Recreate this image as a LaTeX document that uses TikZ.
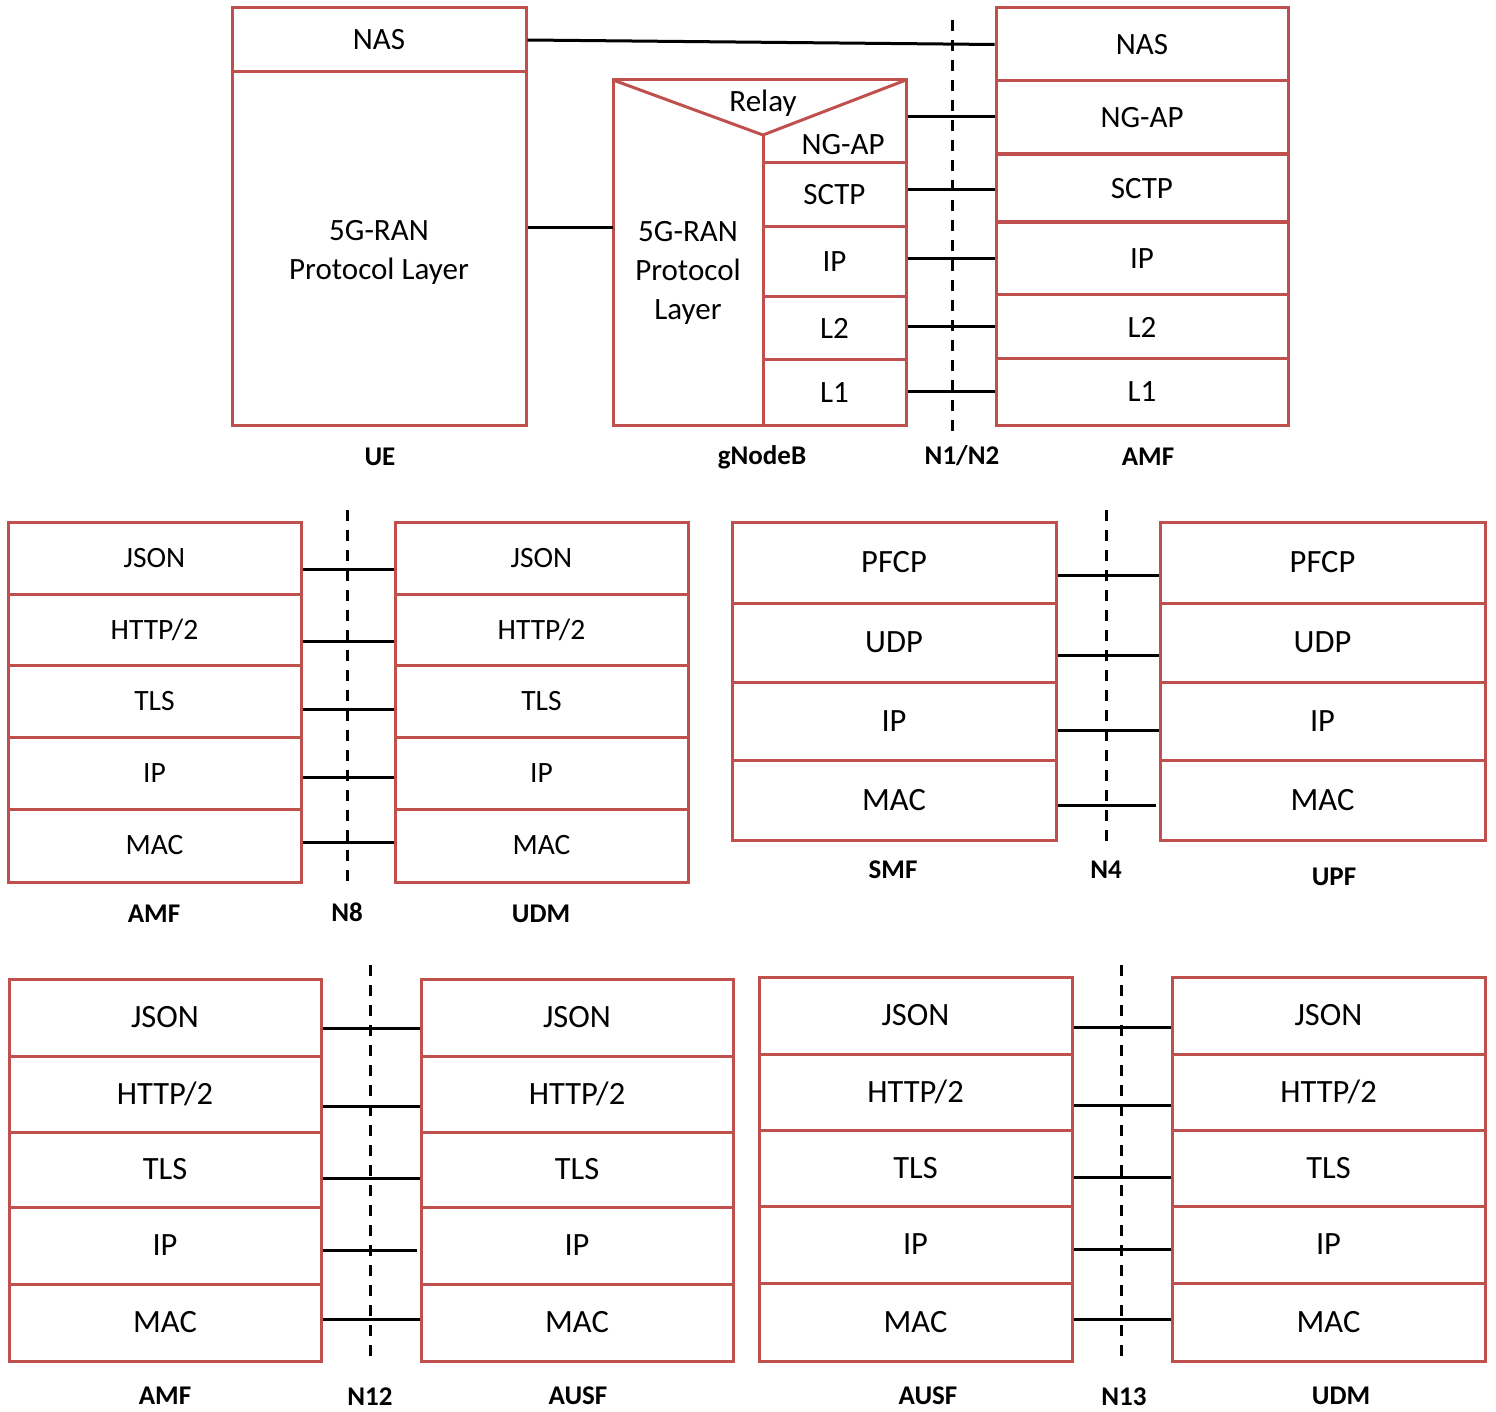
\documentclass[tikz,border=0pt]{standalone}
\usepackage{fontspec}
\setmainfont{Carlito}
\definecolor{boxred}{RGB}{192,80,77}
\tikzset{
  layer/.style={draw=boxred, line width=3pt, inner sep=0pt, align=center},
  txt/.style={inner sep=0pt, align=center},
  lbl/.style={inner sep=0pt, font=\fontsize{27}{32}\selectfont\bfseries},
  link/.style={line width=3pt, black},
  iface/.style={line width=3pt, black, dash pattern=on 11pt off 9pt},
}
\newcommand{\lay}[5]{\node[layer,minimum width=#3pt,minimum height=#4pt] (#1) at (#2) {#5};}
\begin{document}
\begin{tikzpicture}[x=1pt,y=-1pt]
\useasboundingbox (0,0) rectangle (1496,1412);

% ================= Top panel =================
\begin{scope}[font=\fontsize{31}{39}\selectfont]
% UE
\lay{uenas}{379,40}{294}{64}{NAS}
\lay{ueran}{379,248.5}{294}{353}{}
\node[txt] (uerantxt) at (379,252.5) {5G-RAN\\Protocol Layer};
% gNodeB
\draw[boxred, line width=3pt, line join=miter] (613,80) -- (906,80) -- (906,425) -- (613,425) -- cycle;
\draw[boxred, line width=3pt] (613,80) -- (763,135) -- (906,80);
\draw[boxred, line width=3pt] (763,135) -- (763,163);
\node[txt] (relay) at (763,103) {Relay};
\node[txt] (gngap) at (843,145) {NG-AP};
\node[txt, minimum width=150pt, minimum height=310pt] (gran) at (688,273) {5G-RAN\\Protocol\\Layer};
\lay{gsctp}{834.5,195}{143}{64}{SCTP}
\lay{gip}{834.5,262}{143}{70}{IP}
\lay{gltwo}{834.5,328.5}{143}{63}{L2}
\lay{glone}{834.5,392.5}{143}{65}{L1}
% AMF
\lay{anas}{1142,44.5}{292}{73}{NAS}
\lay{angap}{1142,117.5}{292}{73}{NG-AP}
\lay{asctp}{1142,189}{292}{68}{SCTP}
\lay{aip}{1142,258.5}{292}{73}{IP}
\lay{altwo}{1142,327}{292}{64}{L2}
\lay{alone}{1142,392}{292}{66}{L1}
\end{scope}
\draw[link] (uenas.east) -- (anas.west);
\draw[link] (ueran.east |- 0,228) -- (gran.west |- 0,228);
\draw[link] (gsctp.east |- 0,117) -- (angap.west |- 0,117);
\draw[link] (gsctp.east |- 0,190) -- (asctp.west |- 0,190);
\draw[link] (gip.east |- 0,259) -- (aip.west |- 0,259);
\draw[link] (gltwo.east |- 0,327) -- (altwo.west |- 0,327);
\draw[link] (glone.east |- 0,391) -- (alone.west |- 0,391);
\coordinate (nta) at (952,20);
\coordinate (ntb) at (952,432);
\draw[iface] (nta) -- (ntb);
\node[lbl] (lue) at (380,457) {UE};
\node[lbl] (lgnb) at (762,457) {gNodeB};
\node[lbl] (lnt) at (962,456) {N1/N2};
\node[lbl] (lamf) at (1148,457) {AMF};

% ================= Panel N8 =================
\begin{scope}[font=\fontsize{29.5}{34}\selectfont]
\lay{pa1}{154.5,558}{293}{72}{JSON}
\lay{pa2}{154.5,629.5}{293}{71}{HTTP/2}
\lay{pa3}{154.5,701}{293}{72}{TLS}
\lay{pa4}{154.5,773}{293}{72}{IP}
\lay{pa5}{154.5,845.5}{293}{73}{MAC}
\lay{pb1}{541.5,558}{293}{72}{JSON}
\lay{pb2}{541.5,629.5}{293}{71}{HTTP/2}
\lay{pb3}{541.5,701}{293}{72}{TLS}
\lay{pb4}{541.5,773}{293}{72}{IP}
\lay{pb5}{541.5,845.5}{293}{73}{MAC}
\end{scope}
\draw[link] (pa1.east |- 0,569) -- (pb1.west |- 0,569);
\draw[link] (pa2.east |- 0,641) -- (pb2.west |- 0,641);
\draw[link] (pa3.east |- 0,709) -- (pb3.west |- 0,709);
\draw[link] (pa4.east |- 0,777) -- (pb4.west |- 0,777);
\draw[link] (pa5.east |- 0,842) -- (pb5.west |- 0,842);
\coordinate (n8a) at (347,510);
\coordinate (n8b) at (347,885);
\draw[iface] (n8a) -- (n8b);
\node[lbl] (lamf2) at (154,914) {AMF};
\node[lbl] (ln8) at (347,912) {N8};
\node[lbl] (ludm2) at (541,914) {UDM};

% ================= Panel N4 =================
\begin{scope}[font=\fontsize{32.5}{38}\selectfont]
\lay{sa1}{894,562.5}{324}{81}{PFCP}
\lay{sa2}{894,642.5}{324}{79}{UDP}
\lay{sa3}{894,721}{324}{78}{IP}
\lay{sa4}{894,800}{324}{80}{MAC}
\lay{sb1}{1322.5,562.5}{325}{81}{PFCP}
\lay{sb2}{1322.5,642.5}{325}{79}{UDP}
\lay{sb3}{1322.5,721}{325}{78}{IP}
\lay{sb4}{1322.5,800}{325}{80}{MAC}
\end{scope}
\draw[link] (sa1.east |- 0,575) -- (sb1.west |- 0,575);
\draw[link] (sa2.east |- 0,655) -- (sb2.west |- 0,655);
\draw[link] (sa3.east |- 0,730) -- (sb3.west |- 0,730);
\draw[link] (sa4.east |- 0,805) -- ([xshift=-3pt]sb4.west |- 0,805);
\coordinate (n4a) at (1106,510);
\coordinate (n4b) at (1106,845);
\draw[iface] (n4a) -- (n4b);
\node[lbl] (lsmf) at (893,870) {SMF};
\node[lbl] (ln4) at (1106,870) {N4};
\node[lbl] (lupf) at (1334,877) {UPF};

% ================= Panel N12 =================
\begin{scope}[font=\fontsize{32.5}{38}\selectfont]
\lay{ca1}{165,1017.5}{312}{77}{JSON}
\lay{ca2}{165,1094}{312}{76}{HTTP/2}
\lay{ca3}{165,1169.5}{312}{75}{TLS}
\lay{ca4}{165,1245.5}{312}{77}{IP}
\lay{ca5}{165,1322.5}{312}{77}{MAC}
\lay{cb1}{577,1017.5}{312}{77}{JSON}
\lay{cb2}{577,1094}{312}{76}{HTTP/2}
\lay{cb3}{577,1169.5}{312}{75}{TLS}
\lay{cb4}{577,1245.5}{312}{77}{IP}
\lay{cb5}{577,1322.5}{312}{77}{MAC}
\end{scope}
\draw[link] (ca1.east |- 0,1028) -- (cb1.west |- 0,1028);
\draw[link] (ca2.east |- 0,1106) -- (cb2.west |- 0,1106);
\draw[link] (ca3.east |- 0,1178) -- (cb3.west |- 0,1178);
\draw[link] (ca4.east |- 0,1250) -- ([xshift=-3pt]cb4.west |- 0,1250);
\draw[link] (ca5.east |- 0,1319) -- (cb5.west |- 0,1319);
\coordinate (n12a) at (370,965);
\coordinate (n12b) at (370,1365);
\draw[iface] (n12a) -- (n12b);
\node[lbl] (lamf3) at (165,1396) {AMF};
\node[lbl] (ln12) at (370,1397) {N12};
\node[lbl] (lausf3) at (578,1396) {AUSF};

% ================= Panel N13 =================
\begin{scope}[font=\fontsize{32.5}{38}\selectfont]
\lay{da1}{915.5,1015.5}{313}{77}{JSON}
\lay{da2}{915.5,1092}{313}{76}{HTTP/2}
\lay{da3}{915.5,1168}{313}{76}{TLS}
\lay{da4}{915.5,1244.5}{313}{77}{IP}
\lay{da5}{915.5,1322}{313}{78}{MAC}
\lay{db1}{1328.5,1015.5}{313}{77}{JSON}
\lay{db2}{1328.5,1092}{313}{76}{HTTP/2}
\lay{db3}{1328.5,1168}{313}{76}{TLS}
\lay{db4}{1328.5,1244.5}{313}{77}{IP}
\lay{db5}{1328.5,1322}{313}{78}{MAC}
\end{scope}
\draw[link] (da1.east |- 0,1027) -- (db1.west |- 0,1027);
\draw[link] (da2.east |- 0,1105) -- (db2.west |- 0,1105);
\draw[link] (da3.east |- 0,1177) -- (db3.west |- 0,1177);
\draw[link] (da4.east |- 0,1249) -- (db4.west |- 0,1249);
\draw[link] (da5.east |- 0,1319) -- (db5.west |- 0,1319);
\coordinate (n13a) at (1121,965);
\coordinate (n13b) at (1121,1365);
\draw[iface] (n13a) -- (n13b);
\node[lbl] (lausf4) at (928,1396) {AUSF};
\node[lbl] (ln13) at (1124,1397) {N13};
\node[lbl] (ludm4) at (1341,1396) {UDM};
\end{tikzpicture}
\end{document}
